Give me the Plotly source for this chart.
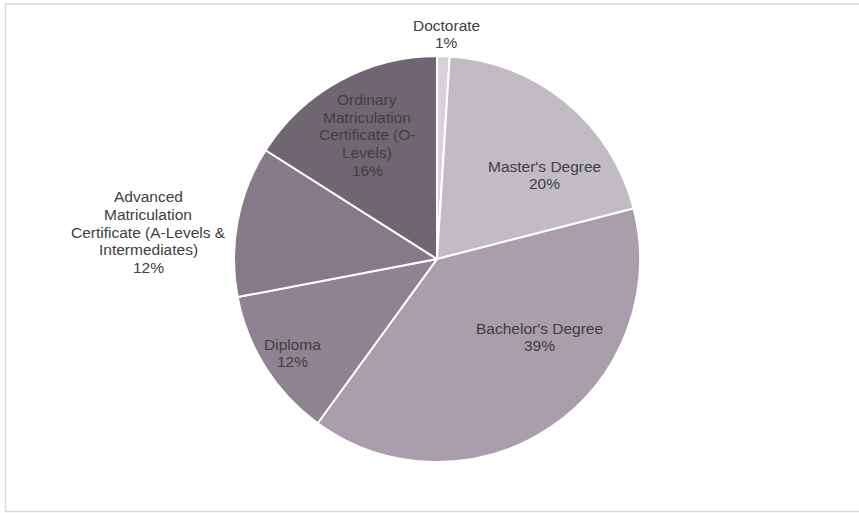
import plotly.graph_objects as go

W, H = 859, 513

# Highest qualification attained (share of respondents, %)
categories = [
    "Doctorate",
    "Master's Degree",
    "Bachelor's Degree",
    "Diploma",
    "Advanced<br>Matriculation<br>Certificate (A-Levels &<br>Intermediates)",
    "Ordinary<br>Matriculation<br>Certificate (O-<br>Levels)",
]
shares = [1, 20, 39, 12, 12, 16]
colors = ["#d6d2d8", "#c1bcc3", "#a99ea9", "#908391", "#867a88", "#6f6671"]

# label block centres in pixels (x, y)
label_centres = [
    (447, 34),
    (544, 175),
    (539, 337),
    (292, 353),
    (148, 232),
    (367, 135),
]

FONT = "Liberation Sans, Arial, sans-serif"
TEXT_COLOR = "#404040"
LINE_GAP = 17.7


def px(x, y):
    return x / W, 1 - y / H


fig = go.Figure(
    go.Pie(
        labels=[c.replace("<br>", " ") for c in categories],
        values=shares,
        sort=False,
        direction="clockwise",
        rotation=0,
        marker=dict(colors=colors, line=dict(color="white", width=2)),
        textinfo="none",
        hoverinfo="label+percent",
        showlegend=False,
        domain=dict(x=[234 / W, 640 / W], y=[1 - 462 / H, 1 - 56 / H]),
    )
)

total = sum(shares)
annotations = []
for cat, val, (cx, cy) in zip(categories, shares, label_centres):
    lines = cat.split("<br>") + [f"{round(100 * val / total)}%"]
    n = len(lines)
    for i, line in enumerate(lines):
        ly = cy + (i - (n - 1) / 2) * LINE_GAP
        ax, ay = px(cx, ly)
        annotations.append(
            dict(
                x=ax, y=ay, xref="paper", yref="paper",
                text=line, showarrow=False,
                xanchor="center", yanchor="middle",
                font=dict(family=FONT, size=15.5, color=TEXT_COLOR),
            )
        )

# thin frame round the chart area
x0, y0 = px(5.5, 4)
x1, y1 = px(875, 511.5)

fig.update_layout(
    width=W,
    height=H,
    margin=dict(l=0, r=0, t=0, b=0),
    paper_bgcolor="white",
    plot_bgcolor="white",
    annotations=annotations,
    shapes=[
        dict(
            type="rect", xref="paper", yref="paper",
            x0=x0, y0=y1, x1=x1, y1=y0,
            line=dict(color="#d9d9d9", width=1.5),
            fillcolor="rgba(0,0,0,0)",
        )
    ],
)

fig.write_html("out.html")
